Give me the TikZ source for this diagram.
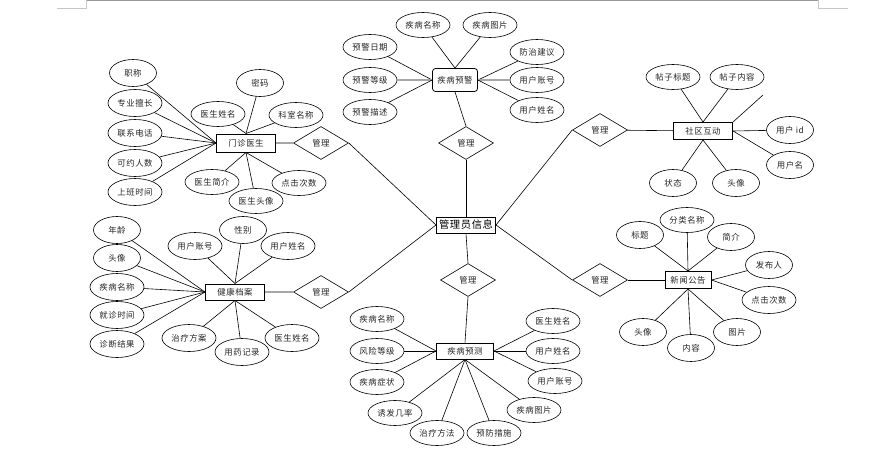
\documentclass[tikz,border=0pt]{standalone}
\usepackage{fontspec}
\setmainfont[LetterSpace=6]{Noto Sans CJK SC}
\usetikzlibrary{shapes.geometric}
\tikzset{
  lbl/.style={font=\fontsize{8.4}{10}\selectfont, text=black!85},
  attr/.style={ellipse, draw, line width=0.6pt, minimum width=54, minimum height=25, inner sep=0, lbl},
  attrs/.style={ellipse, draw, line width=0.6pt, minimum width=47, minimum height=27, inner sep=0, lbl},
  ent/.style={rectangle, draw, line width=1pt, minimum height=17, inner sep=0, lbl},
  rel/.style={diamond, draw, line width=0.6pt, minimum width=55, minimum height=33, inner sep=0, lbl},
  ln/.style={line width=0.6pt},
  thk/.style={line width=1.5pt, gray!70},
  pageframe/.style={line width=1pt, gray!80},
  cornermark/.style={line width=0.8pt, gray!45}
}
\begin{document}
\begin{tikzpicture}[x=1pt,y=-1pt]
\useasboundingbox (0,0) rectangle (892,460);
% page corner marks
\draw[pageframe] (86,0.5) -- (818,0.5);
\draw[cornermark] (57,8) -- (86,8) -- (86,0);
\draw[cornermark] (818,0) -- (818,8) -- (848,8);

% centre
\node[ent, minimum width=59, minimum height=16, font=\fontsize{10.3}{12}\selectfont, text=black] (adm) at (466,225) {管理员信息};

% diamonds
\node[rel] (d1) at (466,143) {管理};
\node[rel] (d2) at (321,143) {管理};
\node[rel] (d3) at (600,130) {管理};
\node[rel] (d4) at (600,280) {管理};
\node[rel] (d5) at (321,292) {管理};
\node[rel] (d6) at (468,280) {管理};

% entities
\node[ent, rounded corners=3pt, minimum width=45, minimum height=23, line width=0.8pt] (yj) at (455,80) {疾病预警};
\node[ent, minimum width=59, minimum height=18] (mz) at (246,143) {门诊医生};
\node[ent, minimum width=59] (sq) at (703,131) {社区互动};
\node[ent, minimum width=46] (xw) at (688,280) {新闻公告};
\node[ent, minimum width=59, minimum height=16] (jk) at (235,292) {健康档案};
\node[ent, minimum width=57, minimum height=16] (yc) at (465,351) {疾病预测};

% relation links
\draw[ln] (d1) -- (adm.north);
\draw[ln] (yj.south) -- (d1.north);
\draw[ln] (d2.east) -- (adm.west);
\draw[thk] (mz) -- (d2);
\draw[ln] (d3.west) -- (adm.east);
\draw[ln] (d3) -- (sq);
\draw[ln] (d4.west) -- (adm.east);
\draw[ln] (d4) -- (xw);
\draw[ln] (d5.east) -- (adm.west);
\draw[thk] (jk) -- (d5);
\draw[ln] (adm.south) -- (d6.north);
\draw[ln] (d6.south) -- (yc.north);

% 疾病预警 attributes
\node[attr] (yj1) at (423,25) {疾病名称};
\node[attr] (yj2) at (490,25) {疾病图片};
\node[attr] (yj3) at (370,47) {预警日期};
\node[attr] (yj4) at (370,80) {预警等级};
\node[attr] (yj5) at (370,112) {预警描述};
\node[attr] (yj6) at (537,52) {防治建议};
\node[attr] (yj7) at (537,80) {用户账号};
\node[attr] (yj8) at (537,110) {用户姓名};
\draw[ln] (yj1) -- (yj.north);
\draw[ln] (yj2) -- (yj.north);
\draw[ln] (yj3) -- (yj.west);
\draw[thk] (yj4) -- (yj.west);
\draw[ln] (yj5) -- (yj.west);
\draw[ln] (yj6) -- (yj.east);
\draw[thk] (yj7) -- (yj.east);
\draw[ln] (yj8) -- (yj.east);

% 门诊医生 attributes
\node[attrs] (mz1) at (133,73) {职称};
\node[attr, minimum height=27] (mz2) at (135,103) {专业擅长};
\node[attr, minimum height=27] (mz3) at (135,133) {联系电话};
\node[attr, minimum height=27] (mz4) at (135,163) {可约人数};
\node[attr, minimum height=27] (mz5) at (135,192) {上班时间};
\node[attr] (mz6) at (218,114) {医生姓名};
\node[attrs] (mz7) at (260,83) {密码};
\node[attr] (mz8) at (296,115) {科室名称};
\node[attr] (mz9) at (212,182) {医生简介};
\node[attr] (mz10) at (256,201) {医生头像};
\node[attr] (mz11) at (299,183) {点击次数};
\foreach \i in {1,...,5} {\draw[ln] (mz\i) -- (mz.west);}
\foreach \i in {6,7,8} {\draw[ln] (mz\i) -- (mz.north);}
\foreach \i in {9,10,11} {\draw[ln] (mz\i) -- (mz.south);}

% 社区互动 attributes
\node[attr] (sq1) at (673,77) {帖子标题};
\node[attr] (sq2) at (737,77) {帖子内容};
\node[attrs] (sq3) at (790,130) {用户 id};
\node[attrs] (sq4) at (790,165) {用户名};
\node[attrs] (sq5) at (673,183) {状态};
\node[attrs] (sq6) at (736,183) {头像};
\coordinate (sqx) at (763,95);
\draw[ln] (sq1) -- (sq.north);
\draw[ln] (sq2) -- (sq.north);
\draw[ln] (sq.east) -- (sq3);
\draw[ln] (sq.east) -- (sq4);
\draw[ln] (sq5) -- (sq.south);
\draw[ln] (sq6) -- (sq.south);
\draw[ln] (sq.north east) -- (sqx);

% 新闻公告 attributes
\node[attrs] (xw1) at (640,235) {标题};
\node[attr] (xw2) at (687,220) {分类名称};
\node[attrs] (xw3) at (731,237) {简介};
\node[attrs] (xw4) at (769,265) {发布人};
\node[attr, minimum height=27] (xw5) at (769,300) {点击次数};
\node[attrs] (xw6) at (643,332) {头像};
\node[attrs] (xw7) at (691,348) {内容};
\node[attrs] (xw8) at (737,332) {图片};
\foreach \i in {1,2,3} {\draw[ln] (xw\i) -- (xw.north);}
\foreach \i in {4,5} {\draw[ln] (xw\i) -- (xw.east);}
\foreach \i in {6,7,8} {\draw[ln] (xw\i) -- (xw.south);}

% 健康档案 attributes
\node[attrs] (jk1) at (117,230) {年龄};
\node[attrs] (jk2) at (117,258) {头像};
\node[attr, minimum height=27] (jk3) at (117,287) {疾病名称};
\node[attr, minimum height=27] (jk4) at (117,315) {就诊时间};
\node[attr, minimum height=27] (jk5) at (117,344) {诊断结果};
\node[attr, minimum height=27] (jk6) at (195,246) {用户账号};
\node[attrs] (jk7) at (243,230) {性别};
\node[attr, minimum height=27] (jk8) at (288,246) {用户姓名};
\node[attr, minimum height=27] (jk9) at (189,338) {治疗方案};
\node[attr, minimum height=27] (jk10) at (242,352) {用药记录};
\node[attr, minimum height=27] (jk11) at (292,338) {医生姓名};
\foreach \i in {1,...,5} {\draw[ln] (jk\i) -- (jk.west);}
\foreach \i in {6,7,8} {\draw[ln] (jk\i) -- (jk.north);}
\foreach \i in {9,10,11} {\draw[ln] (jk\i) -- (jk.south);}

% 疾病预测 attributes
\node[attr] (yc1) at (377,319) {疾病名称};
\node[attr] (yc2) at (377,351) {风险等级};
\node[attr] (yc3) at (377,382) {疾病症状};
\node[attr] (yc4) at (395,413) {诱发几率};
\node[attr] (yc5) at (437,433) {治疗方法};
\node[attr] (yc6) at (494,433) {预防措施};
\node[attr] (yc7) at (534,410) {疾病图片};
\node[attr] (yc8) at (553,321) {医生姓名};
\node[attr] (yc9) at (553,351) {用户姓名};
\node[attr] (yc10) at (555,381) {用户账号};
\foreach \i in {1,2,3} {\draw[ln] (yc\i) -- (yc.west);}
\foreach \i in {4,...,7} {\draw[ln] (yc\i) -- (yc.south);}
\foreach \i in {8,9,10} {\draw[ln] (yc\i) -- (yc.east);}
\end{tikzpicture}
\end{document}
